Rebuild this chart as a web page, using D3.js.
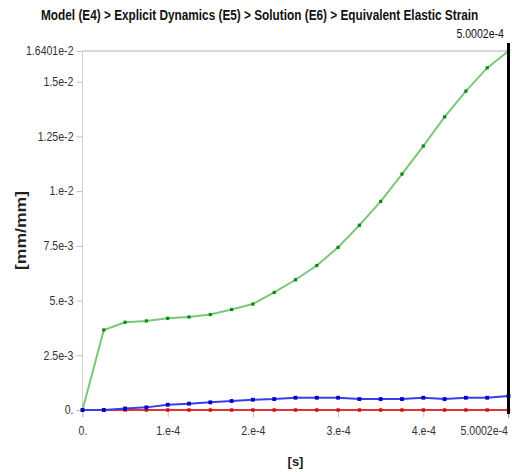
<!DOCTYPE html>
<html>
<head>
<meta charset="utf-8">
<script src="https://cdn.jsdelivr.net/npm/d3@7"></script>
<style>
  html, body { margin: 0; padding: 0; background: #fff; }
  svg { display: block; }
  text { font-family: "Liberation Sans", Arial, sans-serif; }
</style>
</head>
<body>
<svg id="chart" width="512" height="472"></svg>
<script>
// Equivalent elastic strain history (mm/mm) over time (s)
const tEnd = 5.0002e-4;
const steps = 20;
const times = d3.range(steps + 1).map(i => i * tEnd / steps);

// Maximum
const strainMax = [0, 3.656e-3, 4.01e-3, 4.07e-3, 4.19e-3, 4.25e-3, 4.36e-3, 4.59e-3, 4.84e-3,
  5.37e-3, 5.95e-3, 6.60e-3, 7.43e-3, 8.44e-3, 9.53e-3, 10.78e-3, 12.06e-3, 13.39e-3,
  14.57e-3, 15.63e-3, 16.401e-3];
// Average
const strainAvg = [0, 0, 0.07e-3, 0.12e-3, 0.24e-3, 0.29e-3, 0.35e-3, 0.41e-3, 0.47e-3,
  0.50e-3, 0.56e-3, 0.56e-3, 0.56e-3, 0.50e-3, 0.50e-3, 0.50e-3, 0.56e-3, 0.50e-3,
  0.56e-3, 0.56e-3, 0.64e-3];
// Minimum
const strainMin = [0, 0, 0, 0, 0, 0, 0, 0, 0, 0, 0, 0, 0, 0, 0, 0, 0, 0, 0, 0, 0];

const yTickValues = [0, 2.5e-3, 5e-3, 7.5e-3, 1e-2, 1.25e-2, 1.5e-2, 1.6401e-2];
const yTickLabels = ["0.", "2.5e-3", "5.e-3", "7.5e-3", "1.e-2", "1.25e-2", "1.5e-2", "1.6401e-2"];
const xTickValues = [0, 1e-4, 2e-4, 3e-4, 4e-4, tEnd];
const xTickLabels = ["0.", "1.e-4", "2.e-4", "3.e-4", "4.e-4", "5.0002e-4"];

const titleText = "Model (E4) > Explicit Dynamics (E5) > Solution (E6) > Equivalent Elastic Strain";

const svg = d3.select("#chart");
const plotLeft = 82.5, plotRight = 508.5, plotTop = 51, plotBottom = 410;

const x = d3.scaleLinear().domain([0, tEnd]).range([plotLeft, plotRight]);
const y = d3.scaleLinear().domain([0, 1.6401e-2]).range([plotBottom, plotTop]);

// squeeze a text horizontally about its own anchor point
function condense(sel, factor) {
  sel.each(function () {
    const ax = +(this.getAttribute("x") || 0);
    d3.select(this).attr("transform",
      `translate(${ax},0) scale(${factor},1) translate(${-ax},0)`);
  });
}

// title, narrowed to a fixed width
const title = svg.append("text")
  .attr("x", 0).attr("y", 0)
  .attr("font-size", 14).attr("font-weight", "bold").attr("fill", "#111")
  .text(titleText);
const titleW = title.node().getComputedTextLength();
title.attr("transform", `translate(41,20) scale(${438 / titleW},1)`);

// top frame line at the max value
svg.append("line")
  .attr("x1", plotLeft).attr("x2", plotRight)
  .attr("y1", y(1.6401e-2)).attr("y2", y(1.6401e-2))
  .attr("stroke", "#b0b0b0").attr("stroke-width", 1);

// y axis
const yAxis = svg.append("g")
  .attr("transform", `translate(${plotLeft},0)`)
  .call(d3.axisLeft(y).tickValues(yTickValues)
    .tickFormat((d, i) => yTickLabels[i]).tickSize(6).tickPadding(3));
yAxis.select(".domain").attr("stroke", "#d0d0d0").attr("d", `M0,${plotTop}V${plotBottom + 7}`);
yAxis.selectAll(".tick line").attr("stroke", "#c0c0c0");
yAxis.selectAll(".tick text")
  .attr("font-size", 12).attr("fill", "#333")
  .attr("font-family", "'Liberation Sans', Arial, sans-serif")
  .call(condense, 0.88);

// x axis
const xAxis = svg.append("g")
  .attr("transform", `translate(0,${plotBottom})`)
  .call(d3.axisBottom(x).tickValues(xTickValues)
    .tickFormat((d, i) => xTickLabels[i]).tickSize(7).tickPadding(9));
xAxis.select(".domain").attr("stroke", "#d0d0d0").attr("d", `M${plotLeft},0H${plotRight}`);
xAxis.selectAll(".tick line").attr("stroke", "#c0c0c0");
// last label sits left of its tick
xAxis.selectAll(".tick text").filter((d, i) => i === xTickValues.length - 1)
  .attr("text-anchor", "end").attr("x", -1);
xAxis.selectAll(".tick text")
  .attr("font-size", 12).attr("fill", "#333")
  .attr("font-family", "'Liberation Sans', Arial, sans-serif")
  .call(condense, 0.88);

// axis titles
svg.append("text")
  .attr("x", (plotLeft + plotRight) / 2).attr("y", 466)
  .attr("text-anchor", "middle")
  .attr("font-size", 13).attr("font-weight", "bold").attr("fill", "#222")
  .text("[s]");
svg.append("text")
  .attr("transform", `translate(26,${(plotTop + plotBottom) / 2}) rotate(-90)`)
  .attr("text-anchor", "middle")
  .attr("font-size", 14).attr("font-weight", "bold").attr("fill", "#222")
  .attr("textLength", 79).attr("lengthAdjust", "spacingAndGlyphs")
  .text("[mm/mm]");

// series
const series = [
  { values: strainMax, line: "#78c878", marker: "#0a8a0a", size: 3.2 },
  { values: strainMin, line: "#e23434", marker: "#cc1111", size: 3.4 },
  { values: strainAvg, line: "#3b3bf0", marker: "#0000c8", size: 3.8 }
];

const lineGen = d3.line().x((d, i) => x(times[i])).y(d => y(d));

series.forEach(s => {
  svg.append("path")
    .datum(s.values)
    .attr("d", lineGen)
    .attr("fill", "none")
    .attr("stroke", s.line)
    .attr("stroke-width", 2);
  svg.append("g").selectAll("rect")
    .data(s.values)
    .join("rect")
    .attr("x", (d, i) => x(times[i]) - s.size / 2)
    .attr("y", d => y(d) - s.size / 2)
    .attr("width", s.size).attr("height", s.size)
    .attr("fill", s.marker);
});

// time cursor at the final step
svg.append("line")
  .attr("x1", x(tEnd)).attr("x2", x(tEnd))
  .attr("y1", 43).attr("y2", plotBottom + 4)
  .attr("stroke", "#000").attr("stroke-width", 3);
svg.append("line")
  .attr("x1", x(tEnd)).attr("x2", x(tEnd))
  .attr("y1", plotBottom + 4).attr("y2", plotBottom + 8)
  .attr("stroke", "#999").attr("stroke-width", 1);
svg.append("text")
  .attr("x", 504).attr("y", 38)
  .attr("text-anchor", "end")
  .attr("font-size", 12).attr("fill", "#111")
  .text(xTickLabels[xTickLabels.length - 1])
  .call(condense, 0.88);
</script>
</body>
</html>
